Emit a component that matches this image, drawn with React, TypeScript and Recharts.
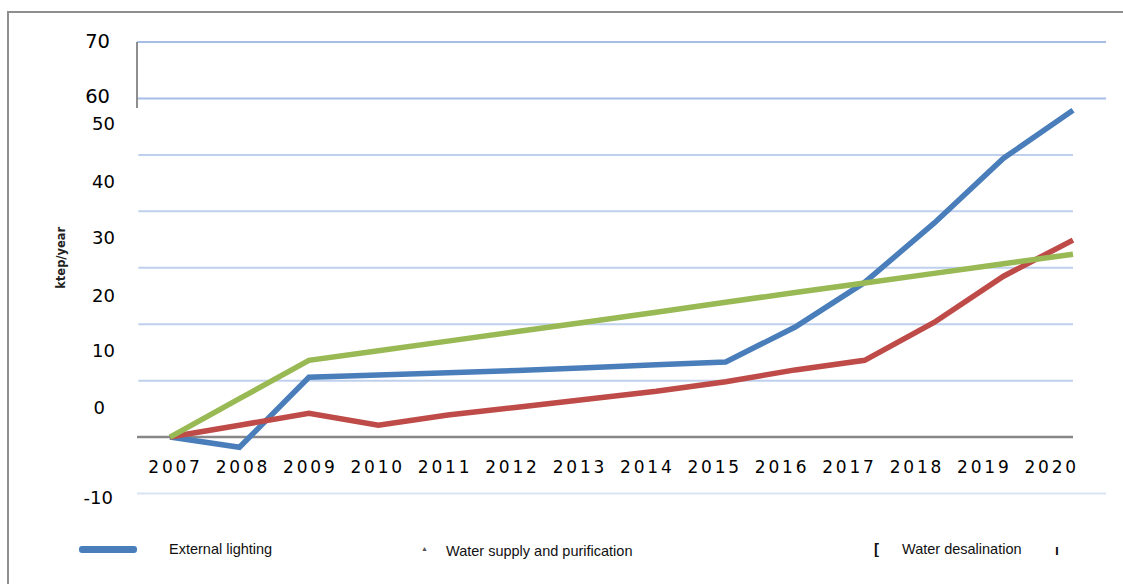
import React from 'react';
import { LineChart, Line, XAxis, YAxis, ReferenceLine } from 'recharts';

const years = [2007, 2008, 2009, 2010, 2011, 2012, 2013, 2014, 2015, 2016, 2017, 2018, 2019, 2020];
const externalLighting = [0, -1.8, 10.6, 11.0, 11.4, 11.8, 12.3, 12.8, 13.3, 19.5, 27.4, 37.9, 49.4, 57.9];
const waterSupply = [0, 2.1, 4.2, 2.1, 3.9, 5.3, 6.7, 8.1, 9.8, 11.9, 13.6, 20.3, 28.5, 34.9];
const waterDesalination = [0, 6.8, 13.6, 15.3, 17.0, 18.7, 20.4, 22.1, 23.9, 25.6, 27.3, 29.0, 30.7, 32.4];
const seriesNames = ['External lighting', 'Water supply and purification', 'Water desalination'];
const seriesKeys = ['lighting', 'supply', 'desal'];
const seriesColors = ['#4a7ebb', '#be4b48', '#98b954'];
const yTicks = [70, 60, 50, 40, 30, 20, 10, 0, -10];
const yAxisTitle = 'ktep/year';

const data = years.map((year, i) => ({
  year,
  lighting: externalLighting[i],
  supply: waterSupply[i],
  desal: waterDesalination[i],
}));

const X_DOMAIN: [number, number] = [2006.525, 2020.475];
const LABEL_DOMAIN: [number, number] = [2006.451, 2020.828];

// label placement quirks of the original (offsets relative to the tick position)
const yTickStyle: Record<number, { dx: number; dy: number; size: number }> = {
  70: { dx: -19, dy: -1, size: 19.5 },
  60: { dx: -19, dy: -2, size: 19.5 },
  50: { dx: -14, dy: -31, size: 18 },
  40: { dx: -14, dy: -30, size: 18 },
  30: { dx: -14, dy: -30, size: 18 },
  20: { dx: -14, dy: -29, size: 18 },
  10: { dx: -14, dy: -30, size: 18 },
  0: { dx: -24, dy: -30, size: 18 },
  [-10]: { dx: -16, dy: 4, size: 18 },
};

const YTick = (props: any) => {
  const { x, y, payload } = props;
  const s = yTickStyle[payload.value] || { dx: 0, dy: 0, size: 18 };
  return (
    <text
      x={x + s.dx}
      y={y + s.dy}
      dy="0.36em"
      textAnchor="end"
      fontFamily="DejaVu Sans"
      fontSize={s.size}
      fill="#000"
    >
      {payload.value}
    </text>
  );
};

const XTick = (props: any) => {
  const { x, y, payload } = props;
  return (
    <text
      x={x + 1.5}
      y={y - 58.5}
      textAnchor="middle"
      fontFamily="DejaVu Sans"
      fontSize={17}
      letterSpacing={2.8}
      fill="#000"
    >
      {payload.value}
    </text>
  );
};

const YTitle = (props: any) => {
  const vb = props.viewBox || { x: 0, y: 0, width: 0, height: 0 };
  const cx = vb.x + 61;
  const cy = vb.y + vb.height / 2 - 10;
  return (
    <text
      x={cx}
      y={cy}
      transform={`rotate(-90 ${cx} ${cy})`}
      textAnchor="middle"
      dy="0.36em"
      fontFamily="DejaVu Sans"
      fontSize={11.5}
      fontWeight="bold"
      fill="#222"
    >
      {yAxisTitle}
    </text>
  );
};

const gridTop = '#a6bee5';
const gridMid = '#bfd0ec';
const gridLow = '#dae4f3';

export default function App() {
  const legendFont = { fontFamily: 'Liberation Sans', fontSize: 14.5, lineHeight: 1, color: '#111', position: 'absolute' as const, whiteSpace: 'nowrap' as const };
  return (
    <div style={{ position: 'absolute', left: 0, top: 0, width: 1123, height: 584, background: '#fff', overflow: 'hidden' }}>
      {/* outer frame */}
      <div style={{ position: 'absolute', left: 7, top: 11, width: 1123, height: 600, borderTop: '2px solid #8e8e8e', borderLeft: '2px solid #8e8e8e' }} />
      <div style={{ position: 'absolute', left: 0, top: 0 }}>
        <LineChart width={1123} height={584} data={data} margin={{ top: 42, right: 17, left: 0, bottom: 60.5 }}>
          <XAxis xAxisId="data" dataKey="year" type="number" domain={X_DOMAIN} allowDataOverflow hide />
          <XAxis
            xAxisId="labels"
            dataKey="year"
            type="number"
            domain={LABEL_DOMAIN}
            allowDataOverflow
            ticks={years}
            interval={0}
            axisLine={false}
            tickLine={false}
            height={30}
            tick={<XTick />}
          />
          <YAxis
            type="number"
            domain={[-10, 70]}
            allowDataOverflow
            ticks={yTicks}
            interval={0}
            width={137}
            axisLine={false}
            tickLine={false}
            tick={<YTick />}
            label={{ content: <YTitle /> }}
          />
          {/* gridlines */}
          <ReferenceLine xAxisId="data" ifOverflow="visible" stroke={gridTop} strokeWidth={2} segment={[{ x: X_DOMAIN[0], y: 70 }, { x: X_DOMAIN[1], y: 70 }]} />
          <ReferenceLine xAxisId="data" ifOverflow="visible" stroke={gridTop} strokeWidth={2} segment={[{ x: X_DOMAIN[0], y: 60 }, { x: X_DOMAIN[1], y: 60 }]} />
          {[50, 40, 30, 20, 10].map((v) => (
            <ReferenceLine key={v} xAxisId="data" ifOverflow="visible" stroke={gridMid} strokeWidth={2} segment={[{ x: X_DOMAIN[0] + 0.02, y: v }, { x: years[years.length - 1], y: v }]} />
          ))}
          <ReferenceLine xAxisId="data" ifOverflow="visible" stroke={gridLow} strokeWidth={2} segment={[{ x: X_DOMAIN[0], y: -10 }, { x: X_DOMAIN[1], y: -10 }]} />
          {/* short vertical axis stub */}
          <ReferenceLine xAxisId="data" ifOverflow="visible" stroke="#8e8e8e" strokeWidth={2} segment={[{ x: X_DOMAIN[0], y: 70 }, { x: X_DOMAIN[0], y: 58.3 }]} />
          {/* zero axis */}
          <ReferenceLine xAxisId="data" ifOverflow="visible" stroke="#878787" strokeWidth={2.5} segment={[{ x: X_DOMAIN[0], y: 0 }, { x: years[years.length - 1], y: 0 }]} />
          {seriesKeys.map((k, i) => (
            <Line
              key={k}
              xAxisId="data"
              type="linear"
              dataKey={k}
              name={seriesNames[i]}
              stroke={seriesColors[i]}
              strokeWidth={5.5}
              dot={false}
              activeDot={false}
              isAnimationActive={false}
            />
          ))}
        </LineChart>
      </div>
      {/* legend */}
      <div style={{ position: 'absolute', left: 79, top: 546, width: 58, height: 7, background: seriesColors[0], borderRadius: 3 }} />
      <span style={{ ...legendFont, left: 169, top: 541.5 }}>{seriesNames[0]}</span>
      <span style={{ ...legendFont, left: 421, top: 545, fontSize: 7, color: '#555' }}>▲</span>
      <span style={{ ...legendFont, left: 446, top: 544 }}>{seriesNames[1]}</span>
      <span style={{ ...legendFont, left: 874, top: 541, fontWeight: 'bold', fontSize: 15 }}>[</span>
      <span style={{ ...legendFont, left: 902, top: 541.5 }}>{seriesNames[2]}</span>
      <span style={{ ...legendFont, left: 1055, top: 543, fontWeight: 'bold', fontSize: 14 }}>ı</span>
    </div>
  );
}
